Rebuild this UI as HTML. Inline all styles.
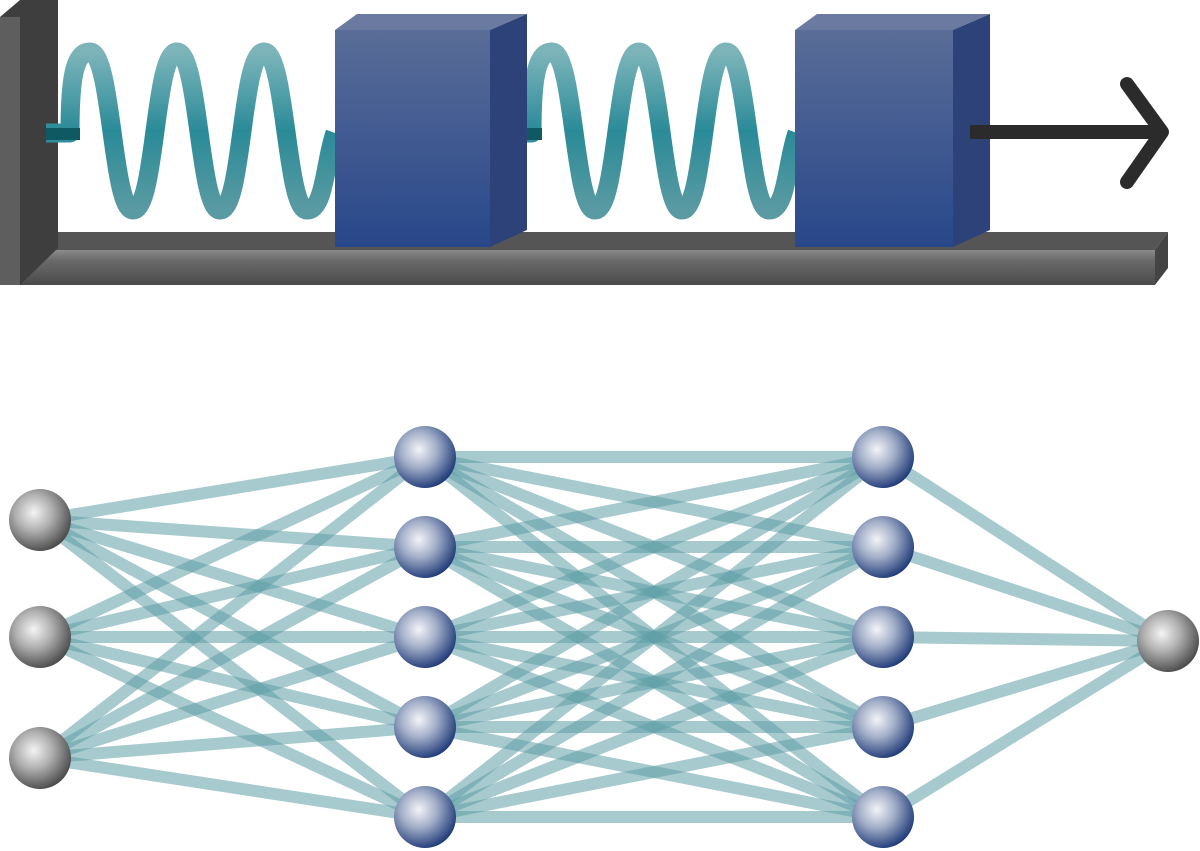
<!DOCTYPE html>
<html><head><meta charset="utf-8"><style>html,body{margin:0;padding:0;background:#fff}svg{display:block}</style></head>
<body>
<svg width="1200" height="851" viewBox="0 0 1200 851" xmlns="http://www.w3.org/2000/svg">
<defs>
<radialGradient id="gs" cx="0.4" cy="0.38" r="0.65">
<stop offset="0" stop-color="#f4f4f4"/><stop offset="0.45" stop-color="#b0b0b0"/><stop offset="1" stop-color="#4a4a4a"/>
</radialGradient>
<radialGradient id="bs" cx="0.4" cy="0.38" r="0.65">
<stop offset="0" stop-color="#f4f4f8"/><stop offset="0.45" stop-color="#a2aec8"/><stop offset="1" stop-color="#1f3a78"/>
</radialGradient>
<linearGradient id="floorF" x1="0" y1="0" x2="0" y2="1">
<stop offset="0" stop-color="#8a8a8a"/><stop offset="0.3" stop-color="#6a6a6a"/><stop offset="1" stop-color="#4a4a4a"/>
</linearGradient>
<linearGradient id="blkF" x1="0" y1="0" x2="0" y2="1">
<stop offset="0" stop-color="#5a6d98"/><stop offset="1" stop-color="#28478a"/>
</linearGradient>
<linearGradient id="spr" x1="0" y1="0" x2="0" y2="1">
<stop offset="0" stop-color="#7db4ba"/><stop offset="0.5" stop-color="#2a8b98"/><stop offset="1" stop-color="#5a9aa2"/>
</linearGradient>
</defs>
<!-- floor -->
<polygon points="58,232 1168,232 1155,250 20,250" fill="#555"/>
<rect x="20" y="250" width="1135" height="35" fill="url(#floorF)"/>
<polygon points="1155,250 1168,232 1168,268 1155,285" fill="#444"/>
<!-- wall -->
<polygon points="0,17 20,0 58,0 58,248 20,285 0,285" fill="#3e3e3e"/>
<rect x="0" y="17" width="20" height="268" fill="#5e5e5e"/>
<!-- springs -->
<g fill="none" stroke="url(#spr)" stroke-width="19" stroke-linejoin="round">
<path d="M46,133 L70,133 C70,80 74,52 90,52 C112,52 112,210 133,210 C156,210 154,52 177,52 C199,52 199,210 220,210 C243,210 241,52 264,52 C286,52 286,210 307,210 C325,210 325,160 335,133"/>
<path d="M508,133 L532,133 C532,80 536,52 552,52 C574,52 574,210 595,210 C618,210 616,52 639,52 C661,52 661,210 682,210 C705,210 703,52 726,52 C748,52 748,210 769,210 C787,210 787,160 797,133"/>
</g>
<g fill="#0f5a62">
<rect x="46" y="128" width="34" height="12"/>
<rect x="508" y="128" width="34" height="12"/>
</g>
<!-- blocks -->
<polygon points="335,30 357,14 527,14 490,30" fill="#6a7aa0"/>
<polygon points="490,30 527,14 527,230 490,247" fill="#2c4278"/>
<rect x="335" y="30" width="155" height="217" fill="url(#blkF)"/>
<polygon points="795,30 817,14 990,14 953,30" fill="#6a7aa0"/>
<polygon points="953,30 990,14 990,230 953,247" fill="#2c4278"/>
<rect x="795" y="30" width="158" height="217" fill="url(#blkF)"/>
<!-- arrow -->
<line x1="970" y1="132" x2="1160" y2="132" stroke="#2b2b2b" stroke-width="14"/>
<polyline points="1127,84 1162,132 1127,182" fill="none" stroke="#2b2b2b" stroke-width="14" stroke-linecap="round" stroke-linejoin="round"/>
<!-- network edges -->
<g stroke="#5e9ea6" stroke-opacity="0.55" stroke-width="12">
<line x1="40" y1="520" x2="425" y2="457"/><line x1="40" y1="520" x2="425" y2="547"/><line x1="40" y1="520" x2="425" y2="637"/><line x1="40" y1="520" x2="425" y2="727"/><line x1="40" y1="520" x2="425" y2="817"/>
<line x1="40" y1="637" x2="425" y2="457"/><line x1="40" y1="637" x2="425" y2="547"/><line x1="40" y1="637" x2="425" y2="637"/><line x1="40" y1="637" x2="425" y2="727"/><line x1="40" y1="637" x2="425" y2="817"/>
<line x1="40" y1="758" x2="425" y2="457"/><line x1="40" y1="758" x2="425" y2="547"/><line x1="40" y1="758" x2="425" y2="637"/><line x1="40" y1="758" x2="425" y2="727"/><line x1="40" y1="758" x2="425" y2="817"/>
<line x1="425" y1="457" x2="883" y2="457"/><line x1="425" y1="457" x2="883" y2="547"/><line x1="425" y1="457" x2="883" y2="637"/><line x1="425" y1="457" x2="883" y2="727"/><line x1="425" y1="457" x2="883" y2="817"/>
<line x1="425" y1="547" x2="883" y2="457"/><line x1="425" y1="547" x2="883" y2="547"/><line x1="425" y1="547" x2="883" y2="637"/><line x1="425" y1="547" x2="883" y2="727"/><line x1="425" y1="547" x2="883" y2="817"/>
<line x1="425" y1="637" x2="883" y2="457"/><line x1="425" y1="637" x2="883" y2="547"/><line x1="425" y1="637" x2="883" y2="637"/><line x1="425" y1="637" x2="883" y2="727"/><line x1="425" y1="637" x2="883" y2="817"/>
<line x1="425" y1="727" x2="883" y2="457"/><line x1="425" y1="727" x2="883" y2="547"/><line x1="425" y1="727" x2="883" y2="637"/><line x1="425" y1="727" x2="883" y2="727"/><line x1="425" y1="727" x2="883" y2="817"/>
<line x1="425" y1="817" x2="883" y2="457"/><line x1="425" y1="817" x2="883" y2="547"/><line x1="425" y1="817" x2="883" y2="637"/><line x1="425" y1="817" x2="883" y2="727"/><line x1="425" y1="817" x2="883" y2="817"/>
<line x1="883" y1="457" x2="1168" y2="641"/><line x1="883" y1="547" x2="1168" y2="641"/><line x1="883" y1="637" x2="1168" y2="641"/><line x1="883" y1="727" x2="1168" y2="641"/><line x1="883" y1="817" x2="1168" y2="641"/>
</g>
<!-- nodes -->
<g fill="url(#gs)">
<circle cx="40" cy="520" r="31"/><circle cx="40" cy="637" r="31"/><circle cx="40" cy="758" r="31"/>
<circle cx="1168" cy="641" r="31"/>
</g>
<g fill="url(#bs)">
<circle cx="425" cy="457" r="31"/><circle cx="425" cy="547" r="31"/><circle cx="425" cy="637" r="31"/><circle cx="425" cy="727" r="31"/><circle cx="425" cy="817" r="31"/>
<circle cx="883" cy="457" r="31"/><circle cx="883" cy="547" r="31"/><circle cx="883" cy="637" r="31"/><circle cx="883" cy="727" r="31"/><circle cx="883" cy="817" r="31"/>
</g>
</svg>
</body></html>
